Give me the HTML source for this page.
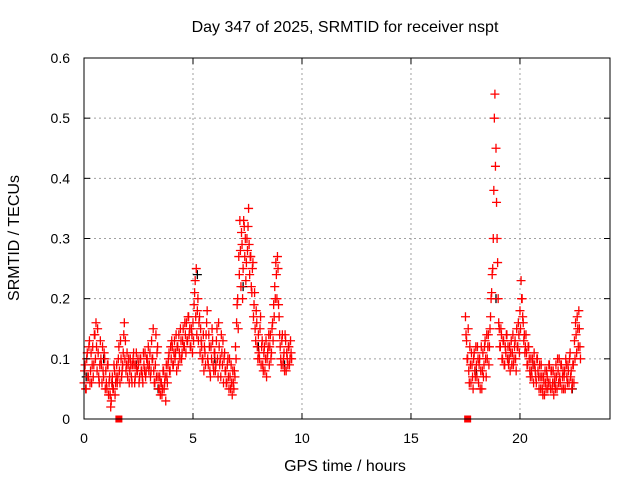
<!DOCTYPE html>
<html><head><meta charset="utf-8"><style>
body{margin:0;background:#fff;}
svg{display:block;font-family:"Liberation Sans",sans-serif;}
</style></head><body>
<svg id="chart" width="640" height="480" viewBox="0 0 640 480">
<text x="345" y="32" font-size="16" text-anchor="middle">Day 347 of 2025, SRMTID for receiver nspt</text>
<text x="345" y="471" font-size="16" text-anchor="middle">GPS time / hours</text>
<text transform="translate(19,238) rotate(-90)" font-size="16" text-anchor="middle">SRMTID / TECUs</text>
<g id="grid"></g><g id="marks"></g><g id="axes"></g>
</svg>
<script>
const xTicks=[0,5,10,15,20];
const yTicks=[0,0.1,0.2,0.3,0.4,0.5,0.6];
const yTickLabels=["0","0.1","0.2","0.3","0.4","0.5","0.6"];
const seg1Start=0, seg2Start=17.5, stepHours=0.05;
const seg1A=[.06,.09,.05,.11,.07,.13,.08,.06,.12,.09,.14,.16,.08,.11,.06,.13,.09,.12,.07,.10,.08,.05,.09,.06,.04,.03,.07,.05,.08,.06,.09,.07,.12,.06,.10,.08,.11,.16,.13,.09,.07,.10,.08,.09,.06,.10,.09,.07,.11,.08,.09,.07,.10,.08,.06,.09,.11,.08,.10,.12,.09,.07,.13,.10,.08,.06,.14,.11,.07,.05,.04,.06,.05,.08,.06,.03,.07,.09,.11,.08,.10,.12,.09,.13,.11,.08,.12,.14,.10,.13,.11,.15,.12,.14,.16,.13,.17,.15,.12,.14,.16,.19,.23,.25,.18,.13,.17,.15,.12,.10,.08,.11,.14,.18,.09,.12,.07,.10,.13,.08,.11,.09,.15,.07,.12,.10,.14,.09,.06,.11,.08,.06,.10,.05,.07,.09,.04,.06,.08,.12,.16,.20,.27,.33,.22,.29,.25,.32,.30,.26,.28,.35,.24,.27,.21,.26,.19,.15,.18,.12,.14,.10,.17,.12,.09,.11,.08,.13,.10,.12,.09,.14,.11,.16,.19,.22,.26,.20,.25,.17,.12,.09,.14,.10,.08,.13,.11,.09,.12,.10,.11];
const seg1B=[.08,.05,.10,.07,.12,.06,.11,.09,.07,.14,.10,.12,.15,.07,.09,.10,.06,.08,.11,.05,.06,.09,.04,.07,.02,.06,.05,.09,.04,.07,.06,.10,.08,.13,.07,.09,.14,.10,.08,.11,.09,.06,.10,.07,.09,.11,.06,.09,.08,.10,.06,.10,.08,.07,.11,.08,.07,.10,.09,.08,.11,.08,.10,.15,.06,.09,.07,.12,.05,.07,.06,.04,.08,.05,.07,.09,.06,.10,.08,.12,.13,.09,.11,.10,.14,.12,.09,.11,.15,.10,.13,.12,.16,.11,.13,.17,.14,.12,.15,.11,.13,.21,.17,.14,.20,.16,.11,.13,.10,.14,.12,.09,.16,.10,.14,.08,.12,.15,.09,.11,.08,.13,.10,.16,.09,.07,.11,.13,.10,.08,.06,.09,.07,.10,.05,.06,.08,.05,.07,.10,.19,.15,.24,.28,.31,.20,.33,.27,.23,.30,.32,.29,.27,.22,.25,.17,.21,.13,.16,.10,.11,.15,.09,.13,.08,.12,.10,.07,.11,.14,.12,.10,.15,.13,.17,.20,.24,.27,.19,.14,.10,.13,.09,.11,.14,.08,.10,.12,.09,.13,.10];
const seg2A=[.17,.13,.10,.08,.12,.06,.09,.05,.11,.07,.09,.12,.06,.10,.08,.05,.11,.09,.13,.07,.10,.14,.12,.17,.21,.25,.38,.54,.45,.30,.20,.15,.12,.14,.10,.13,.09,.11,.14,.12,.10,.08,.13,.11,.09,.12,.10,.15,.12,.14,.18,.23,.20,.16,.14,.12,.11,.09,.12,.08,.10,.07,.09,.11,.08,.06,.10,.07,.09,.05,.07,.04,.06,.08,.05,.07,.06,.09,.05,.08,.06,.04,.07,.09,.05,.08,.10,.06,.09,.07,.05,.08,.10,.07,.09,.06,.11,.08,.06,.09,.13,.16,.11,.15,.18,.12];
const seg2B=[.14,.10,.15,.06,.09,.11,.07,.10,.08,.12,.07,.10,.09,.05,.12,.08,.07,.12,.10,.14,.12,.09,.15,.20,.24,.30,.50,.42,.36,.26,.16,.12,.15,.10,.13,.09,.12,.14,.10,.09,.12,.11,.09,.14,.10,.13,.08,.12,.16,.11,.15,.20,.17,.13,.11,.14,.09,.12,.10,.07,.08,.10,.06,.09,.07,.10,.08,.05,.07,.09,.05,.07,.04,.06,.08,.05,.09,.06,.08,.05,.08,.06,.05,.07,.10,.06,.07,.09,.05,.08,.07,.05,.09,.06,.08,.10,.07,.05,.09,.06,.10,.14,.17,.12,.15,.10];
const blackTimes=[0.1,0.9,1.3,2.4,3.4,4.6,5.2,6.0,7.3,8.0,9.2,18.0,18.9,19.5,20.6,21.6,22.4];
const blackValues=[.07,.10,.06,.09,.05,.12,.24,.10,.22,.12,.09,.08,.20,.10,.09,.06,.05];
const zeroTimes=[1.6,17.6];
const zeroValues=[0,0];

const L=84,R=610,T=58,B=419,XMAX=24.13,YMAX=0.6;
const sx=v=>L+(v/XMAX)*(R-L);
const sy=v=>B-(v/YMAX)*(B-T);
const NS="http://www.w3.org/2000/svg";
function mk(tag,attrs,parent){const e=document.createElementNS(NS,tag);for(const k in attrs)e.setAttribute(k,attrs[k]);parent.appendChild(e);return e;}
const grid=document.getElementById('grid'),marks=document.getElementById('marks'),axes=document.getElementById('axes');
xTicks.forEach((t,i)=>{
  const x=sx(t);
  if(t>0){const g=mk('line',{x1:x,x2:x,y1:T,y2:B,stroke:'#a0a0a0','stroke-dasharray':'2,3'},grid);
  
  }
  mk('line',{x1:x,x2:x,y1:B,y2:B-6,stroke:'#000'},axes);
  mk('line',{x1:x,x2:x,y1:T,y2:T+6,stroke:'#000'},axes);
  const lb=mk('text',{x:x,y:B+24,'font-size':14,'text-anchor':'middle'},axes);lb.textContent=String(t);
  
  
});
yTicks.forEach((t,i)=>{
  const y=sy(t);
  if(t>0&&t<YMAX){const g=mk('line',{x1:L,x2:R,y1:y,y2:y,stroke:'#a0a0a0','stroke-dasharray':'2,3'},grid);
  
  }
  mk('line',{x1:L,x2:L+6,y1:y,y2:y,stroke:'#000'},axes);
  mk('line',{x1:R,x2:R-6,y1:y,y2:y,stroke:'#000'},axes);
  const lb=mk('text',{x:L-14,y:y+5,'font-size':14,'text-anchor':'end'},axes);lb.textContent=yTickLabels[i];
  
  
});
const frame=mk('rect',{x:L,y:T,width:R-L,height:B-T,fill:'none',stroke:'#000'},axes);


function plus(t,v,color,name){
  const x=sx(t),y=sy(v);
  const p=mk('path',{d:`M${x-4.5},${y}h9M${x},${y-4.5}v9`,stroke:color,'stroke-width':1.3,fill:'none'},marks);
  
  
}
blackTimes.forEach((t,i)=>plus(t,blackValues[i],'#000','black-point'));
[[seg1A,seg1Start],[seg1B,seg1Start+stepHours/2],[seg2A,seg2Start],[seg2B,seg2Start+stepHours/2]].forEach(([arr,st])=>{
  arr.forEach((v,i)=>plus(st+i*stepHours,v,'#ff0000','red-point'));
});
zeroTimes.forEach((t,i)=>{
  const r=mk('rect',{x:sx(t)-3.5,y:sy(zeroValues[i])-3.5,width:7,height:7,fill:'#ff0000'},marks);
  
  
});
</script>
</body></html>
